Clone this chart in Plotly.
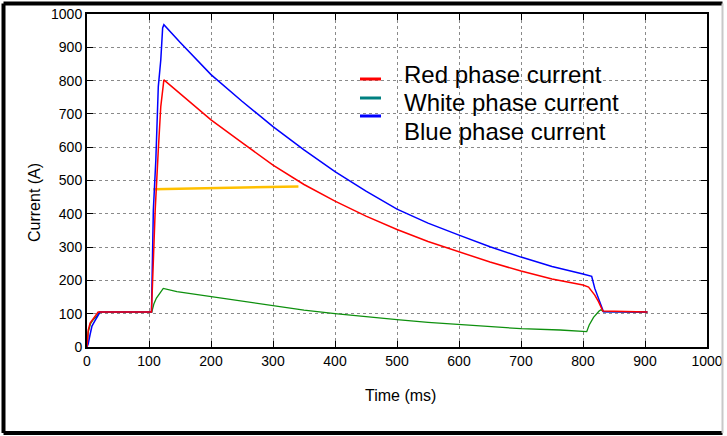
import plotly.graph_objects as go

# ---------------- data ----------------
red_t = [0, 2, 5, 9, 12.5, 18, 104, 106, 110, 115, 119, 124, 150, 200, 250, 300, 350,
         400, 450, 500, 550, 600, 650, 700, 750, 800, 809, 819, 825, 832, 904]
red_v = [0, 51, 72, 82, 91, 105, 105, 216, 411, 592, 722, 802, 761, 682, 614, 546, 488,
         438, 393, 353, 317, 285, 255, 228, 204, 186, 180, 156, 136, 108, 105]

blue_t = [0, 2, 4.8, 8, 12, 18, 21, 104, 107, 111, 113, 115, 119, 122, 124, 150, 200, 250,
          300, 350, 400, 450, 500, 550, 600, 650, 700, 750, 800, 814, 819, 825, 830, 833, 904]
blue_v = [0, 10, 36, 63, 76, 96, 105, 105, 411, 561, 702, 782, 862, 958, 968, 915, 818, 738,
          662, 592, 527, 468, 414, 372, 336, 301, 270, 242, 219, 212, 176, 146, 116, 106, 105]

green_t = [0, 2, 5.5, 10, 16, 20, 104.5, 108, 112, 118, 123, 145, 182, 250, 300, 350, 400, 450,
           500, 550, 600, 650, 700, 763, 806, 810, 817, 826, 829, 833, 904]
green_v = [0, 45, 69, 82, 93, 105, 105, 130, 147, 165, 176, 166, 156, 138, 124, 111, 100, 90,
           82, 74, 67, 61, 55, 51, 46, 66, 89, 108, 112, 106, 105]

yellow_t = [107, 341]
yellow_v = [474, 482]

legend_names = ["Red phase current", "White phase current", "Blue phase current"]
legend_colors = ["#FF0000", "#008080", "#0000FF"]

x_ticks = [0, 100, 200, 300, 400, 500, 600, 700, 800, 900, 1000]
y_ticks = [0, 100, 200, 300, 400, 500, 600, 700, 800, 900, 1000]

# ---------------- layout geometry (pixels) ----------------
W, H = 727, 436
L, R, T, B = 87, 20, 14, 89
PW, PH = W - L - R, H - T - B


def px(x):
    return (x - L) / PW


def py(y):
    return (H - B - y) / PH


FONT = "Liberation Sans, Arial, sans-serif"

fig = go.Figure()
fig.add_trace(go.Scatter(x=yellow_t, y=yellow_v, mode="lines",
                         line=dict(color="#FFC000", width=2.5), showlegend=False))
fig.add_trace(go.Scatter(x=green_t, y=green_v, mode="lines",
                         line=dict(color="#0E900E", width=1.3), showlegend=False))
fig.add_trace(go.Scatter(x=blue_t, y=blue_v, mode="lines",
                         line=dict(color="#0000FF", width=1.5), showlegend=False))
fig.add_trace(go.Scatter(x=red_t, y=red_v, mode="lines",
                         line=dict(color="#FF0000", width=1.5), showlegend=False))

axis_common = dict(
    automargin=False,
    showline=True, linecolor="black", linewidth=2, mirror="ticks",
    ticks="inside", ticklen=6, tickwidth=1, tickcolor="black",
    showgrid=True, gridcolor="#8a8a8a", griddash="dot", gridwidth=1,
    zeroline=False, tickfont=dict(family=FONT, size=14, color="black"),
)

fig.update_xaxes(range=[0, 1000], tickvals=x_ticks, **axis_common)
fig.update_yaxes(range=[0, 1000], tickvals=y_ticks, **axis_common)

shapes = []
annotations = []

# outer frame
fx0, fx1 = px(3.5), px(722.5)
fy0, fy1 = py(433), py(3.5)
shapes.append(dict(type="line", xref="paper", yref="paper", x0=fx0, x1=fx0, y0=fy0, y1=fy1,
                   line=dict(color="black", width=4)))
shapes.append(dict(type="line", xref="paper", yref="paper", x0=fx0, x1=fx1, y0=fy1, y1=fy1,
                   line=dict(color="black", width=4)))
shapes.append(dict(type="line", xref="paper", yref="paper", x0=fx0, x1=fx1, y0=fy0, y1=fy0,
                   line=dict(color="black", width=4)))
shapes.append(dict(type="line", xref="paper", yref="paper", x0=fx1, x1=fx1, y0=fy0, y1=fy1,
                   line=dict(color="#c8c8c8", width=2)))

# manual legend
marker_y = [79, 98, 116]
text_y = [73, 101.3, 129.6]
for name, col, my, ty in zip(legend_names, legend_colors, marker_y, text_y):
    shapes.append(dict(type="line", xref="paper", yref="paper", x0=px(360), x1=px(381),
                       y0=py(my), y1=py(my), line=dict(color=col, width=3)))
    annotations.append(dict(text=name, xref="paper", yref="paper", x=px(402), y=py(ty + 1.5),
                            xanchor="left", yanchor="middle", showarrow=False,
                            font=dict(family=FONT, size=24, color="black")))

# axis titles
annotations.append(dict(text="Time (ms)", xref="paper", yref="paper", x=px(400), y=py(395),
                        xanchor="center", yanchor="middle", showarrow=False,
                        font=dict(family=FONT, size=16, color="black")))
annotations.append(dict(text="Current (A)", xref="paper", yref="paper", x=px(35), y=py(202),
                        xanchor="center", yanchor="middle", showarrow=False, textangle=-90,
                        font=dict(family=FONT, size=16, color="black")))

fig.update_layout(
    template="none",
    width=W, height=H,
    margin=dict(l=L, r=R, t=T, b=B, pad=0),
    paper_bgcolor="white", plot_bgcolor="white",
    shapes=shapes, annotations=annotations,
    showlegend=False,
)

fig.write_html("out.html")
